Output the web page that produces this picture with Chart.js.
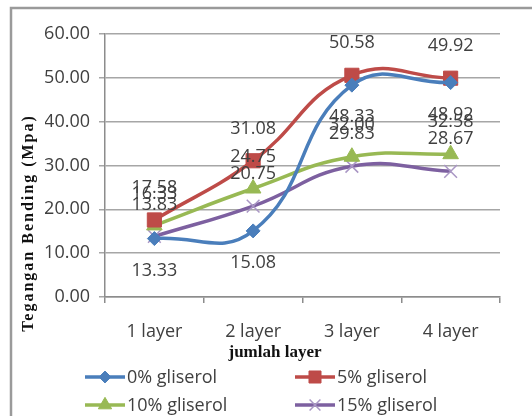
<!DOCTYPE html>
<html>
<head>
<meta charset="utf-8">
<script src="https://cdn.jsdelivr.net/npm/chart.js@4.4.1/dist/chart.umd.min.js"></script>
<style>
  html, body { margin: 0; padding: 0; background: #fff; }
  canvas { display: block; }
</style>
</head>
<body>
<canvas id="chart" width="532" height="416"></canvas>
<script>
// jumlah layer on the x axis
const categories = ["1 layer", "2 layer", "3 layer", "4 layer"];

// tegangan bending (Mpa) per gliserol content
const gliserol0 = [13.33, 15.08, 48.33, 48.92];
const gliserol5 = [17.58, 31.08, 50.58, 49.92];
const gliserol10 = [16.33, 24.75, 32.00, 32.58];
const gliserol15 = [13.83, 20.75, 29.83, 28.67];

const seriesNames = ["0% gliserol", "5% gliserol", "10% gliserol", "15% gliserol"];

const yMin = 0;
const yMax = 60;
const yStep = 10;

const labelFont = "18px 'Open Sans'";
const textGrey = "#404040";

// data labels, drawn above the point (or below for the 0% series)
const dataLabels = {
    id: "dataLabels",
    afterDatasetsDraw(chart) {
        const ctx = chart.ctx;
        ctx.save();
        ctx.font = labelFont;
        ctx.fillStyle = textGrey;
        ctx.textAlign = "center";
        ctx.textBaseline = "middle";
        chart.data.datasets.forEach((ds, i) => {
            const meta = chart.getDatasetMeta(i);
            meta.data.forEach((pt, j) => {
                const dy = ds.labelBelow ? 32 : -32;
                ctx.fillText(ds.data[j].toFixed(2), pt.x, pt.y + dy);
            });
        });
        ctx.restore();
    },
};

// axis titles, excel style legend and frame
const excelDecor = {
    id: "excelDecor",
    afterDraw(chart) {
        const ctx = chart.ctx;
        ctx.save();

        // frame
        ctx.strokeStyle = "#9a9a9a";
        ctx.lineWidth = 2.5;
        ctx.beginPath();
        ctx.moveTo(11, chart.height + 5);
        ctx.lineTo(11, 8);
        ctx.lineTo(chart.width + 5, 8);
        ctx.stroke();

        // y title
        ctx.fillStyle = "#111";
        ctx.font = "bold 16px 'Liberation Serif'";
        ctx.letterSpacing = "2px";
        ctx.textAlign = "center";
        ctx.textBaseline = "middle";
        ctx.translate(29, 223);
        ctx.rotate(-Math.PI / 2);
        ctx.fillText("Tegangan Bending (Mpa)", 0, 0);
        ctx.setTransform(1, 0, 0, 1, 0, 0);
        ctx.letterSpacing = "0px";

        // x title
        ctx.font = "bold 17px 'Liberation Serif'";
        ctx.fillText("jumlah layer", 275, 353);

        // legend, two columns
        const cols = [85, 295];
        const rows = [377, 405];
        ctx.font = labelFont;
        ctx.textAlign = "left";
        chart.data.datasets.forEach((ds, i) => {
            const x = cols[i % 2];
            const y = rows[Math.floor(i / 2)];
            ctx.strokeStyle = ds.borderColor;
            ctx.lineWidth = 3.5;
            ctx.beginPath();
            ctx.moveTo(x, y);
            ctx.lineTo(x + 40, y);
            ctx.stroke();
            ctx.fillStyle = ds.pointBackgroundColor;
            ctx.strokeStyle = ds.pointBorderColor;
            ctx.lineWidth = ds.pointBorderWidth;
            Chart.helpers.drawPoint(ctx, {
                pointStyle: ds.pointStyle,
                radius: ds.pointRadius * 0.85,
                rotation: 0,
                borderWidth: ds.pointBorderWidth,
            }, x + 20, y);
            ctx.fillStyle = textGrey;
            ctx.fillText(ds.label, x + 42, y + 1);
        });

        ctx.restore();
    },
};

function makeSeries(label, data, color, pointStyle, radius, extra) {
    return Object.assign({
        label,
        data,
        borderColor: color,
        backgroundColor: color,
        pointBackgroundColor: color,
        pointBorderColor: color,
        pointBorderWidth: 1,
        pointStyle,
        pointRadius: radius,
        pointHoverRadius: radius,
        borderWidth: 3.5,
        tension: 0.45,
        fill: false,
    }, extra || {});
}

const ctx = document.getElementById("chart").getContext("2d");

new Chart(ctx, {
    type: "line",
    data: {
        labels: categories,
        datasets: [
            makeSeries(seriesNames[0], gliserol0, "#4a7ebb", "rectRot", 7, { labelBelow: true }),
            makeSeries(seriesNames[1], gliserol5, "#be4b48", "rect", 10),
            makeSeries(seriesNames[2], gliserol10, "#98b954", "triangle", 9),
            makeSeries(seriesNames[3], gliserol15, "#7d60a0", "crossRot", 9, {
                pointBorderColor: "#a996c4",
                pointBorderWidth: 1.5,
            }),
        ],
    },
    options: {
        responsive: false,
        animation: false,
        layout: {
            padding: { left: 45, right: 32, top: 34, bottom: 0 },
        },
        plugins: {
            legend: { display: false },
            tooltip: { enabled: false },
        },
        scales: {
            x: {
                offset: true,
                afterFit: (s) => { s.height = 119; },
                grid: {
                    offset: true,
                    drawOnChartArea: false,
                    tickLength: 6,
                    color: "#8c8c8c",
                    lineWidth: 1.5,
                },
                border: { color: "#8c8c8c", width: 1.5 },
                ticks: {
                    font: { family: "'Open Sans'", size: 18 },
                    color: textGrey,
                    padding: 18,
                    maxRotation: 0,
                },
            },
            y: {
                min: yMin,
                max: yMax,
                afterFit: (s) => { s.width = 60; },
                grid: {
                    color: "#a6a6a6",
                    lineWidth: 1.5,
                    tickLength: 6,
                },
                border: { color: "#8c8c8c", width: 1.5 },
                ticks: {
                    stepSize: yStep,
                    padding: 9,
                    font: { family: "'Open Sans'", size: 18 },
                    color: textGrey,
                    callback: (v) => v.toFixed(2),
                },
            },
        },
    },
    plugins: [dataLabels, excelDecor],
});
</script>
</body>
</html>
